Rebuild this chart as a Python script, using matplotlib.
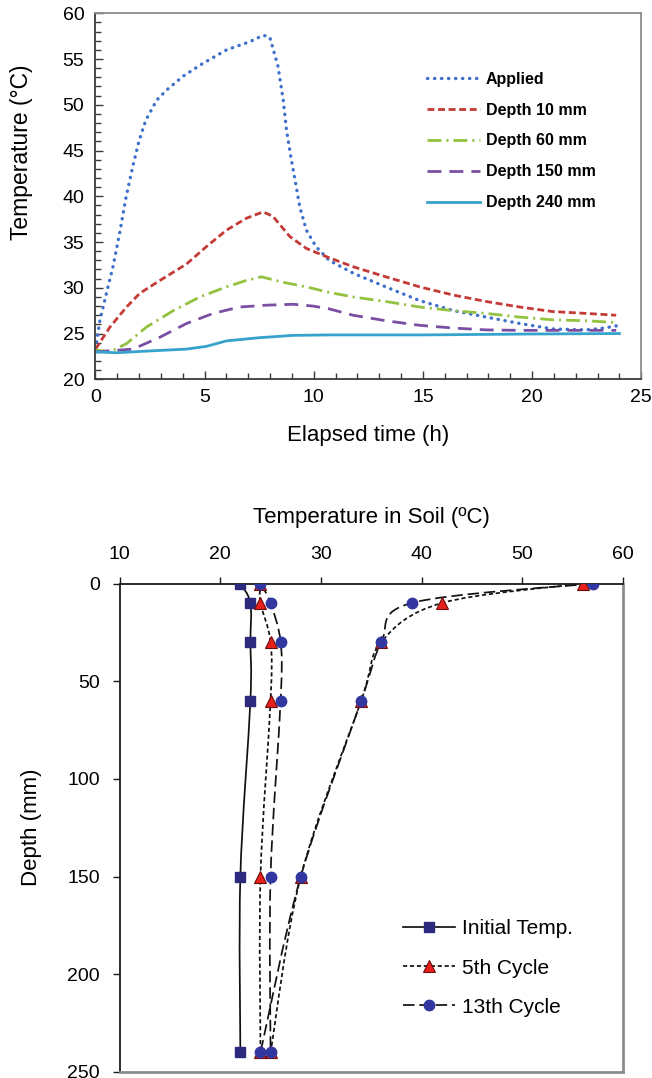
import matplotlib
matplotlib.use("Agg")
import matplotlib.pyplot as plt
from matplotlib.path import Path
from matplotlib.patches import PathPatch
from matplotlib.lines import Line2D
from matplotlib.ticker import MultipleLocator

plt.rcParams['font.family'] = ['Liberation Sans', 'DejaVu Sans']

# ---------------- Temperature history at the surface and at depth ----------------
t_applied = [0, 0.2, 0.5, 0.8, 1.1, 1.4, 1.7, 2.0, 2.3, 2.8, 3.25, 4.0, 4.9, 6.0,
             7.07, 7.68, 7.98, 8.1, 8.36, 8.6, 8.75, 8.97, 9.2, 9.36, 9.66, 10.1,
             10.7, 11.8, 13.3, 14.85, 16.4, 17.9, 19.43, 20.95, 22.48, 23.3, 24.0]
T_applied = [23.3, 26.4, 29.4, 32.3, 35.9, 39.9, 43.2, 46.1, 48.3, 50.5, 51.6, 53.1,
             54.5, 56.0, 56.9, 57.6, 57.4, 56.4, 54.2, 50.5, 47.2, 44.0, 41.0, 38.8,
             36.3, 34.5, 33.0, 31.6, 30.1, 28.6, 27.5, 26.8, 26.1, 25.5, 25.4, 25.6, 25.9]

t_d10 = [0, 0.66, 1.42, 2.03, 2.95, 4.17, 5.08, 6.0, 6.91, 7.68, 8.13, 8.9, 9.66,
         10.58, 11.8, 13.3, 14.85, 16.4, 17.9, 19.43, 20.95, 22.48, 23.85]
T_d10 = [23.3, 25.7, 27.9, 29.4, 30.8, 32.6, 34.5, 36.3, 37.6, 38.3, 37.8, 35.6, 34.3,
         33.4, 32.3, 31.2, 30.1, 29.2, 28.5, 27.9, 27.4, 27.2, 27.0]

t_d60 = [0, 0.66, 1.42, 2.33, 3.56, 4.78, 6.0, 6.91, 7.6, 8.6, 9.66, 10.7, 11.8,
         13.3, 14.85, 16.4, 17.9, 19.43, 20.95, 22.48, 23.85]
T_d60 = [23.2, 23.0, 23.9, 25.7, 27.5, 29.0, 30.1, 30.8, 31.2, 30.6, 30.1, 29.5, 29.0,
         28.5, 27.9, 27.5, 27.2, 26.8, 26.5, 26.4, 26.2]

t_d150 = [0, 1.72, 2.95, 4.17, 5.39, 6.6, 7.83, 9.05, 9.97, 10.7, 11.8, 13.3, 14.85,
          16.4, 17.9, 19.43, 20.95, 22.48, 23.85]
T_d150 = [23.0, 23.3, 24.6, 26.1, 27.2, 27.9, 28.1, 28.2, 28.0, 27.7, 27.0, 26.4, 25.9,
          25.6, 25.4, 25.35, 25.35, 25.35, 25.35]

t_d240 = [0, 0.96, 2.49, 4.17, 5.08, 6.0, 7.52, 9.05, 10.7, 15.0, 20.0, 24.0]
T_d240 = [23.0, 22.9, 23.1, 23.3, 23.6, 24.2, 24.55, 24.8, 24.85, 24.85, 24.95, 25.0]

history_labels = ['Applied', 'Depth 10 mm', 'Depth 60 mm', 'Depth 150 mm', 'Depth 240 mm']

# ---------------- Temperature profiles in the soil ----------------
depth_mm = [0, 10, 30, 60, 150, 240]
initial_temp = [22, 23, 23, 23, 22, 22]
cycle5_cool = [24, 24, 25, 25, 24, 24]
cycle13_cool = [24, 25, 26, 26, 25, 25]
cycle5_hot = [56, 42, 36, 34, 28, 25]
cycle13_hot = [57, 39, 36, 34, 28, 24]
profile_labels = ['Initial Temp.', '5th Cycle', '13th Cycle']

fig = plt.figure(figsize=(6.52, 10.78), dpi=100)
W, H = 652.0, 1078.0

# ======================= upper panel =======================
ax1 = fig.add_axes([95.5 / W, 1 - 379.3 / H, (641.3 - 95.5) / W, (379.3 - 13.3) / H])
lw = 2.0
ax1.plot(t_applied, T_applied, color='#3E6FC9', lw=2.4, linestyle=(0, (0.1, 2.0)),
         dash_capstyle='round', label=history_labels[0])
ax1.plot(t_d10, T_d10, color='#C43A36', lw=lw, linestyle=(0, (2.5, 1.3)),
         label=history_labels[1])
ax1.plot(t_d60, T_d60, color='#93C140', lw=lw, linestyle=(0, (5.0, 1.8, 0.75, 1.8)),
         label=history_labels[2])
ax1.plot(t_d150, T_d150, color='#7A4FA3', lw=lw, linestyle=(0, (5.0, 2.9)),
         label=history_labels[3])
ax1.plot(t_d240, T_d240, color='#35A3CC', lw=lw, linestyle='-',
         label=history_labels[4])

ax1.set_xlim(0, 25)
ax1.set_ylim(20, 60)
ax1.xaxis.set_major_locator(MultipleLocator(5))
ax1.xaxis.set_minor_locator(MultipleLocator(1))
ax1.yaxis.set_major_locator(MultipleLocator(5))
ax1.yaxis.set_minor_locator(MultipleLocator(1))
ax1.tick_params(which='both', direction='in', colors='#3a3a3a', labelcolor='black',
                labelsize=14, top=False, right=False)
ax1.tick_params(axis='x', which='both', pad=7)
ax1.tick_params(axis='y', which='both', pad=8)
ax1.tick_params(which='major', length=6, width=1)
ax1.tick_params(which='minor', length=4, width=1)
for side in ('left', 'bottom'):
    ax1.spines[side].set_color('#3a3a3a')
    ax1.spines[side].set_linewidth(1.3)
for side in ('top', 'right'):
    ax1.spines[side].set_color('#8c8c8c')
    ax1.spines[side].set_linewidth(1.3)

ax1.set_xlabel('Elapsed time (h)', fontsize=16)
ax1.xaxis.set_label_coords(0.5, (379.3 - 436) / 366.0)
ax1.xaxis.label.set_verticalalignment('center')
ax1.set_ylabel('Temperature (°C)', fontsize=16.5)
ax1.yaxis.set_label_coords((21.7 - 95.5) / 545.8, (379.3 - 152) / 366.0)
ax1.yaxis.label.set_verticalalignment('center')
ax1.yaxis.label.set_horizontalalignment('center')

ax1.legend(loc='center left', bbox_to_anchor=((426.7 - 95.5) / 545.8, (379.3 - 141) / 366.0),
           frameon=False, borderpad=0, borderaxespad=0, handlelength=3.35,
           handletextpad=0.36, labelspacing=0.99,
           prop={'size': 11.5, 'weight': 'bold'})


# ======================= lower panel =======================
def smooth_path(xs, ys):
    pts = list(zip(xs, ys))
    n = len(pts)
    verts = [pts[0]]
    codes = [Path.MOVETO]
    for i in range(n - 1):
        p0 = pts[i - 1] if i > 0 else pts[i]
        p1 = pts[i]
        p2 = pts[i + 1]
        p3 = pts[i + 2] if i + 2 < n else pts[i + 1]
        c1 = (p1[0] + (p2[0] - p0[0]) / 6.0, p1[1] + (p2[1] - p0[1]) / 6.0)
        c2 = (p2[0] - (p3[0] - p1[0]) / 6.0, p2[1] - (p3[1] - p1[1]) / 6.0)
        verts += [c1, c2, p2]
        codes += [Path.CURVE4] * 3
    return Path(verts, codes)


ax2 = fig.add_axes([119.5 / W, 1 - 1072 / H, (623 - 119.5) / W, (1072 - 583.5) / H])
ax2.set_xlim(10, 60)
ax2.set_ylim(250, 0)

ls_init = '-'
ls_c5 = (0, (2.4, 1.6))
ls_c13 = (0, (6.6, 2.8))
line_w = 1.25
line_col = '#111111'

for temps, ls in [(initial_temp, ls_init), (cycle5_cool, ls_c5), (cycle5_hot, ls_c5),
                  (cycle13_cool, ls_c13), (cycle13_hot, ls_c13)]:
    ax2.add_patch(PathPatch(smooth_path(temps, depth_mm), fill=False,
                            edgecolor=line_col, lw=line_w, linestyle=ls, zorder=2))

sq_kw = dict(marker='s', markersize=7.5, markerfacecolor='#2B2A7E', markeredgecolor='#2B2A7E')
tri_kw = dict(marker='^', markersize=8.5, markerfacecolor='#E8201C', markeredgecolor='#6A0D0D',
              markeredgewidth=0.8)
cir_kw = dict(marker='o', markersize=7.5, markerfacecolor='#3236A0', markeredgecolor='#3236A0')

ax2.plot(initial_temp, depth_mm, linestyle='none', zorder=3, **sq_kw)
ax2.plot(cycle5_cool, depth_mm, linestyle='none', zorder=3, **tri_kw)
ax2.plot(cycle5_hot, depth_mm, linestyle='none', zorder=3, **tri_kw)
ax2.plot(cycle13_cool, depth_mm, linestyle='none', zorder=4, **cir_kw)
ax2.plot(cycle13_hot, depth_mm, linestyle='none', zorder=4, **cir_kw)

ax2.xaxis.set_ticks_position('top')
ax2.xaxis.set_label_position('top')
ax2.xaxis.set_major_locator(MultipleLocator(10))
ax2.yaxis.set_major_locator(MultipleLocator(50))
ax2.tick_params(direction='out', length=5, width=1, colors='#1a1a1a',
                labelcolor='black', labelsize=14)
ax2.tick_params(axis='x', pad=10)
ax2.tick_params(axis='y', pad=9)
for side in ('left', 'top'):
    ax2.spines[side].set_color('#1a1a1a')
    ax2.spines[side].set_linewidth(1.3)
for side in ('right', 'bottom'):
    ax2.spines[side].set_color('#8c8c8c')
    ax2.spines[side].set_linewidth(2.0)

ax2.set_xlabel('Temperature in Soil (ºC)', fontsize=16)
ax2.xaxis.set_label_coords(0.5, (1072 - 517) / 488.5)
ax2.xaxis.label.set_verticalalignment('center')
ax2.set_ylabel('Depth (mm)', fontsize=16)
ax2.yaxis.set_label_coords((31 - 119.5) / 503.5, 0.5)
ax2.yaxis.label.set_verticalalignment('center')
ax2.yaxis.label.set_horizontalalignment('center')

handles = [
    Line2D([], [], color=line_col, lw=line_w, linestyle=ls_init, **sq_kw),
    Line2D([], [], color=line_col, lw=line_w, linestyle=ls_c5, **tri_kw),
    Line2D([], [], color=line_col, lw=line_w, linestyle=ls_c13, **cir_kw),
]
ax2.legend(handles, profile_labels, loc='center left',
           bbox_to_anchor=((403.3 - 119.5) / 503.5, (1072 - 968) / 488.5),
           frameon=False, borderpad=0, borderaxespad=0, handlelength=2.5,
           handletextpad=0.34, labelspacing=0.97, numpoints=1, fontsize=15)

fig.savefig('out.png', dpi=100)
